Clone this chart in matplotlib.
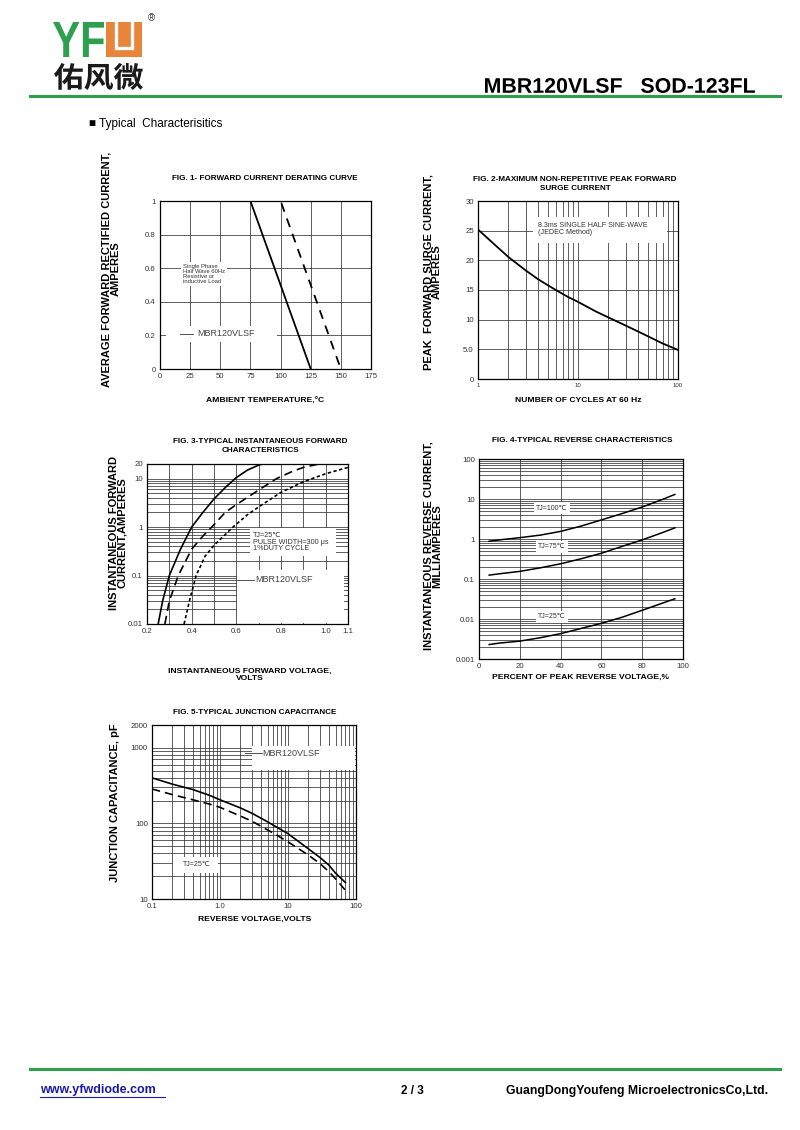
import numpy as np
import matplotlib
matplotlib.use("Agg")
import matplotlib.pyplot as plt
from matplotlib.ticker import FixedLocator, NullFormatter, LogLocator, FixedFormatter
from matplotlib.transforms import Affine2D
from matplotlib.textpath import TextPath
from matplotlib.patches import PathPatch, Rectangle
from matplotlib.lines import Line2D
from matplotlib.font_manager import FontProperties

plt.rcParams["font.family"] = ["Liberation Sans", "DejaVu Sans"]

# Fig 1 - derating
f1_temp_solid = [0, 75, 125]
f1_cur_solid = [1, 1, 0]
f1_temp_dash = [75, 100, 150]
f1_cur_dash = [1, 1, 0]
f1_xticks = [0, 25, 50, 75, 100, 125, 150, 175]
f1_yticks = [0, 0.2, 0.4, 0.6, 0.8, 1]
f1_ylabels = ["0", "0.2", "0.4", "0.6", "0.8", "1"]

# Fig 2 - surge current
f2_cycles = [1, 1.5, 2, 3, 4, 5, 6, 8, 10, 15, 20, 30, 40, 50, 70, 100]
f2_amps = [25.2, 22.5, 20.6, 18.3, 16.8, 15.8, 15.0, 13.8, 13.0, 11.4, 10.4, 9.0, 8.0, 7.2, 6.0, 4.9]
f2_yticks = [0, 5, 10, 15, 20, 25, 30]
f2_ylabels = ["0", "5.0", "10", "15", "20", "25", "30"]

# Fig 3 - forward characteristics
f3_v_solid = [0.25, 0.27, 0.30, 0.35, 0.40, 0.45, 0.50, 0.55, 0.60, 0.65, 0.70, 0.72]
f3_i_solid = [0.01, 0.03, 0.1, 0.35, 1.0, 2.0, 3.8, 6.5, 10.5, 15, 19, 20]
f3_v_dash = [0.28, 0.30, 0.34, 0.40, 0.45, 0.49, 0.55, 0.60, 0.70, 0.78, 0.85, 0.90, 0.97]
f3_i_dash = [0.01, 0.03, 0.1, 0.35, 0.65, 1.0, 2.0, 2.9, 5.8, 10, 14, 17, 20]
f3_v_dot = [0.366, 0.39, 0.42, 0.46, 0.50, 0.55, 0.585, 0.65, 0.70, 0.80, 0.90, 1.00, 1.10]
f3_i_dot = [0.01, 0.03, 0.1, 0.25, 0.42, 0.7, 1.0, 1.8, 2.6, 5.2, 8.6, 12.6, 17]
f3_xticks = [0.2, 0.4, 0.6, 0.8, 1.0, 1.1]
f3_xlabels = ["0.2", "0.4", "0.6", "0.8", "1.0", "1.1"]
f3_yticks = [0.01, 0.1, 1, 10, 20]
f3_ylabels = ["0.01", "0.1", "1", "10", "20"]

# Fig 4 - reverse characteristics
f4_pct = [5, 10, 20, 30, 40, 50, 60, 70, 80, 90, 96]
f4_100c = [0.88, 0.95, 1.08, 1.25, 1.55, 2.1, 3.0, 4.3, 6.3, 9.8, 13]
f4_75c = [0.125, 0.135, 0.155, 0.19, 0.24, 0.32, 0.44, 0.65, 0.95, 1.45, 1.9]
f4_25c = [0.0023, 0.0025, 0.0028, 0.0034, 0.0043, 0.0058, 0.0078, 0.011, 0.0165, 0.025, 0.032]
f4_yticks = [0.001, 0.01, 0.1, 1, 10, 100]
f4_ylabels = ["0.001", "0.01", "0.1", "1", "10", "100"]

# Fig 5 - junction capacitance
f5_volt = [0.1, 0.2, 0.4, 0.7, 1, 2, 3, 5, 7, 10, 20, 30, 40, 50, 70]
f5_cap_solid = [400, 330, 280, 235, 205, 160, 135, 105, 88, 73, 46, 35, 28, 22, 16.5]
f5_cap_dash = [285, 240, 205, 180, 163, 125, 106, 82, 69, 57, 38, 29, 23, 18.5, 13]
f5_xticks = [0.1, 1, 10, 100]
f5_xlabels = ["0.1", "1.0", "10", "100"]
f5_yticks = [10, 100, 1000, 2000]
f5_ylabels = ["10", "100", "1000", "2000"]

W, H = 800, 1130
fig = plt.figure(figsize=(8, 11.3), dpi=100)
px = Affine2D().scale(1 / W, -1 / H).translate(0, 1) + fig.transFigure

GREEN = "#2e9e4f"
ORANGE = "#e8853a"
GRID = "#333333"


def add_ax(x0, y0, x1, y1):
    return fig.add_axes([x0 / W, 1 - y1 / H, (x1 - x0) / W, (y1 - y0) / H])


def txt(x, y, s, size, **kw):
    kw.setdefault("ha", "center")
    kw.setdefault("va", "center")
    fig.text(x / W, 1 - y / H, s, fontsize=size, **kw)


def style(ax):
    for s in ax.spines.values():
        s.set_linewidth(0.9)
    ax.tick_params(which="both", length=0, labelsize=5.6, pad=3, colors="#333333")
    ax.grid(True, which="both", color=GRID, lw=0.55)
    ax.set_axisbelow(True)


def note(ax, x, y, s, size=4.6, **kw):
    kw.setdefault("ha", "left")
    kw.setdefault("va", "center")
    ax.text(x, y, s, transform=px, fontsize=size, color="#333333",
            bbox=dict(fc="white", ec="none", pad=1.5), zorder=2, **kw)


def white(ax, x0, y0, x1, y1):
    ax.add_patch(Rectangle((x0, y0), x1 - x0, y1 - y0, transform=px,
                           fc="white", ec="none", zorder=1))


def legend_line(ax, x0, x1, y):
    ax.add_line(Line2D([x0, x1], [y, y], transform=px, color="#333333", lw=0.6, zorder=2))


def fit_path(s, prop, x0, y0, x1, y1, color):
    tp = TextPath((0, 0), s, size=1, prop=prop)
    bb = tp.get_extents()
    tr = (Affine2D().translate(-bb.x0, -bb.y0)
          .scale((x1 - x0) / bb.width, -(y1 - y0) / bb.height)
          .translate(x0, y1) + px)
    fig.add_artist(PathPatch(tp, transform=tr, fc=color, ec="none"))


# ---------- header ----------
fit_path("YF", FontProperties(family="Liberation Sans", weight="bold"), 53, 22, 104, 57, GREEN)
fig.add_artist(Rectangle((106, 22), 36, 35, transform=px, fc=ORANGE, ec="none"))
fig.add_artist(Line2D([116, 116, 131.5, 131.5], [22, 48, 48, 22], transform=px,
                      color="white", lw=2.4, solid_joinstyle="miter"))
fit_path("佑风微", FontProperties(family="Noto Sans CJK SC", weight="bold"), 54, 63, 143, 90, "#1a1a1a")
txt(151, 18, "®", 7, color="#333333")
fig.add_artist(Line2D([30, 780], [95.5, 95.5], transform=px, color=GREEN, lw=2.2))
fit_path("MBR120VLSF   SOD-123FL", FontProperties(family="Liberation Sans", weight="bold"),
         485, 78, 755, 93, "black")
txt(89, 124, "■ Typical  Characterisitics", 8.5, ha="left")

# ---------- Fig 1 ----------
ax1 = add_ax(160, 201, 371, 369)
style(ax1)
ax1.plot(f1_temp_solid, f1_cur_solid, color="black", lw=1.3, zorder=3)
ax1.plot(f1_temp_dash, f1_cur_dash, color="black", lw=1.3, dashes=(5, 4), zorder=3)
ax1.set_xlim(0, 175)
ax1.set_ylim(0, 1)
ax1.set_xticks(f1_xticks)
ax1.set_yticks(f1_yticks)
ax1.set_yticklabels(f1_ylabels)
note(ax1, 183, 274, "Single Phase\nHalf Wave 60Hz\nResistive or\ninductive Load", size=4.2, linespacing=1.0)
white(ax1, 166, 326, 277, 342)
legend_line(ax1, 180, 193, 334)
ax1.text(197, 334, "MBR120VLSF", transform=px, fontsize=6.5, color="#444444", va="center", zorder=2)
txt(265, 179, "FIG. 1- FORWARD CURRENT DERATING CURVE", 5.9, weight="bold")
txt(265, 401, "AMBIENT TEMPERATURE,°C", 6.1, weight="bold")
txt(111, 269, "AVERAGE FORWARD RECTIFIED CURRENT,\nAMPERES", 8.0, weight="bold",
    rotation=90, linespacing=0.85)

# ---------- Fig 2 ----------
ax2 = add_ax(478, 201, 678, 379)
style(ax2)
ax2.plot(f2_cycles, f2_amps, color="black", lw=1.3, zorder=3)
ax2.set_xscale("log")
ax2.set_xlim(1, 100)
ax2.set_ylim(0, 30)
ax2.xaxis.set_major_locator(FixedLocator([1, 10, 100]))
ax2.xaxis.set_major_formatter(FixedFormatter(["1", "10", "100"]))
ax2.xaxis.set_minor_locator(LogLocator(subs=range(2, 10)))
ax2.xaxis.set_minor_formatter(NullFormatter())
ax2.tick_params(axis="x", labelsize=4.4)
ax2.set_yticks(f2_yticks)
ax2.set_yticklabels(f2_ylabels)
note(ax2, 538, 229, "8.3ms SINGLE HALF SINE-WAVE\n(JEDEC Method)", size=5.1, linespacing=1.0)
white(ax2, 533, 217, 667, 243)
txt(575, 184, "FIG. 2-MAXIMUM NON-REPETITIVE PEAK FORWARD\nSURGE CURRENT", 5.9,
    weight="bold", linespacing=1.3)
txt(578, 401, "NUMBER OF CYCLES AT 60 Hz", 6.1, weight="bold")
txt(433, 272, "PEAK  FORWARD SURGE CURRENT,\nAMPERES", 8.0, weight="bold",
    rotation=90, linespacing=0.8)

# ---------- Fig 3 ----------
ax3 = add_ax(147, 464, 348, 624)
style(ax3)
ax3.plot(f3_v_solid, f3_i_solid, color="black", lw=1.2, zorder=3)
ax3.plot(f3_v_dash, f3_i_dash, color="black", lw=1.2, dashes=(5, 3), zorder=3)
ax3.plot(f3_v_dot, f3_i_dot, color="black", lw=1.2, dashes=(2, 1.5), zorder=3)
ax3.set_yscale("log")
ax3.set_xlim(0.2, 1.1)
ax3.set_ylim(0.01, 20)
ax3.xaxis.set_major_locator(FixedLocator(f3_xticks))
ax3.xaxis.set_major_formatter(FixedFormatter(f3_xlabels))
ax3.xaxis.set_minor_locator(FixedLocator([0.3, 0.5, 0.7, 0.9]))
ax3.yaxis.set_major_locator(FixedLocator(f3_yticks))
ax3.yaxis.set_major_formatter(FixedFormatter(f3_ylabels))
ax3.yaxis.set_minor_locator(LogLocator(subs=range(2, 10)))
ax3.yaxis.set_minor_formatter(NullFormatter())
white(ax3, 250, 528, 336, 556)
ax3.text(253, 542, "TJ=25℃\nPULSE WIDTH=300 μs\n1%DUTY CYCLE", transform=px, fontsize=5.2,
         color="#333333", va="center", linespacing=0.9, zorder=2)
white(ax3, 237, 570, 344, 623)
legend_line(ax3, 237, 254, 580)
ax3.text(255, 580, "MBR120VLSF", transform=px, fontsize=6.5, color="#444444", va="center", zorder=2)
txt(260, 446, "FIG. 3-TYPICAL INSTANTANEOUS FORWARD\nCHARACTERISTICS", 5.9,
    weight="bold", linespacing=1.3)
txt(250, 675, "INSTANTANEOUS FORWARD VOLTAGE,\nVOLTS", 6.1, weight="bold", linespacing=1.1)
txt(118, 533, "INSTANTANEOUS FORWARD\nCURRENT,AMPERES", 8.0, weight="bold",
    rotation=90, linespacing=0.8)

# ---------- Fig 4 ----------
ax4 = add_ax(479, 459, 683, 659)
style(ax4)
for vals in (f4_100c, f4_75c, f4_25c):
    ax4.plot(f4_pct, vals, color="black", lw=1.1, zorder=3)
ax4.set_yscale("log")
ax4.set_xlim(0, 100)
ax4.set_ylim(0.001, 100)
ax4.set_xticks([0, 20, 40, 60, 80, 100])
ax4.yaxis.set_major_locator(FixedLocator(f4_yticks))
ax4.yaxis.set_major_formatter(FixedFormatter(f4_ylabels))
ax4.yaxis.set_minor_locator(LogLocator(subs=range(2, 10)))
ax4.yaxis.set_minor_formatter(NullFormatter())
note(ax4, 552, 508, "TJ=100℃", size=5, ha="center")
note(ax4, 552, 547, "TJ=75℃", size=5, ha="center")
note(ax4, 552, 617, "TJ=25℃", size=5, ha="center")
txt(582, 441, "FIG. 4-TYPICAL REVERSE CHARACTERISTICS", 5.9, weight="bold")
txt(580, 677, "PERCENT OF PEAK REVERSE VOLTAGE,%", 6.1, weight="bold")
txt(433, 546, "INSTANTANEOUS REVERSE CURRENT,\nMILLIAMPERES", 8.0, weight="bold",
    rotation=90, linespacing=0.8)

# ---------- Fig 5 ----------
ax5 = add_ax(152, 725, 356, 899)
style(ax5)
ax5.plot(f5_volt, f5_cap_solid, color="black", lw=1.2, zorder=3)
ax5.plot(f5_volt, f5_cap_dash, color="black", lw=1.2, dashes=(5, 3), zorder=3)
ax5.set_xscale("log")
ax5.set_yscale("log")
ax5.set_xlim(0.1, 100)
ax5.set_ylim(10, 2000)
ax5.xaxis.set_major_locator(FixedLocator(f5_xticks))
ax5.xaxis.set_major_formatter(FixedFormatter(f5_xlabels))
ax5.xaxis.set_minor_locator(LogLocator(subs=range(2, 10)))
ax5.xaxis.set_minor_formatter(NullFormatter())
ax5.yaxis.set_major_locator(FixedLocator(f5_yticks))
ax5.yaxis.set_major_formatter(FixedFormatter(f5_ylabels))
ax5.yaxis.set_minor_locator(LogLocator(subs=range(2, 10)))
ax5.yaxis.set_minor_formatter(NullFormatter())
white(ax5, 252, 746, 355, 770)
legend_line(ax5, 245, 262, 753)
ax5.text(262, 753, "MBR120VLSF", transform=px, fontsize=6.5, color="#444444", va="center", zorder=2)
white(ax5, 173, 857, 218, 873)
ax5.text(183, 865, "TJ=25℃", transform=px, fontsize=5, color="#333333", va="center", zorder=2)
txt(255, 712, "FIG. 5-TYPICAL JUNCTION CAPACITANCE", 5.9, weight="bold")
txt(255, 919, "REVERSE VOLTAGE,VOLTS", 6.1, weight="bold")
txt(115, 803, "JUNCTION CAPACITANCE, pF", 8.0, weight="bold", rotation=90)

# ---------- footer ----------
fig.add_artist(Line2D([30, 780], [1069, 1069], transform=px, color=GREEN, lw=2.2))
txt(40, 1090, "www.yfwdiode.com", 9, weight="bold", color="#1a1aa8", ha="left")
fig.add_artist(Line2D([40, 165], [1096.5, 1096.5], transform=px, color="#1a1aa8", lw=0.8))
txt(412, 1091, "2 / 3", 8.5, weight="bold")
txt(768, 1091, "GuangDongYoufeng MicroelectronicsCo,Ltd.", 8.8, weight="bold", ha="right")

fig.savefig("out.png", dpi=100)
